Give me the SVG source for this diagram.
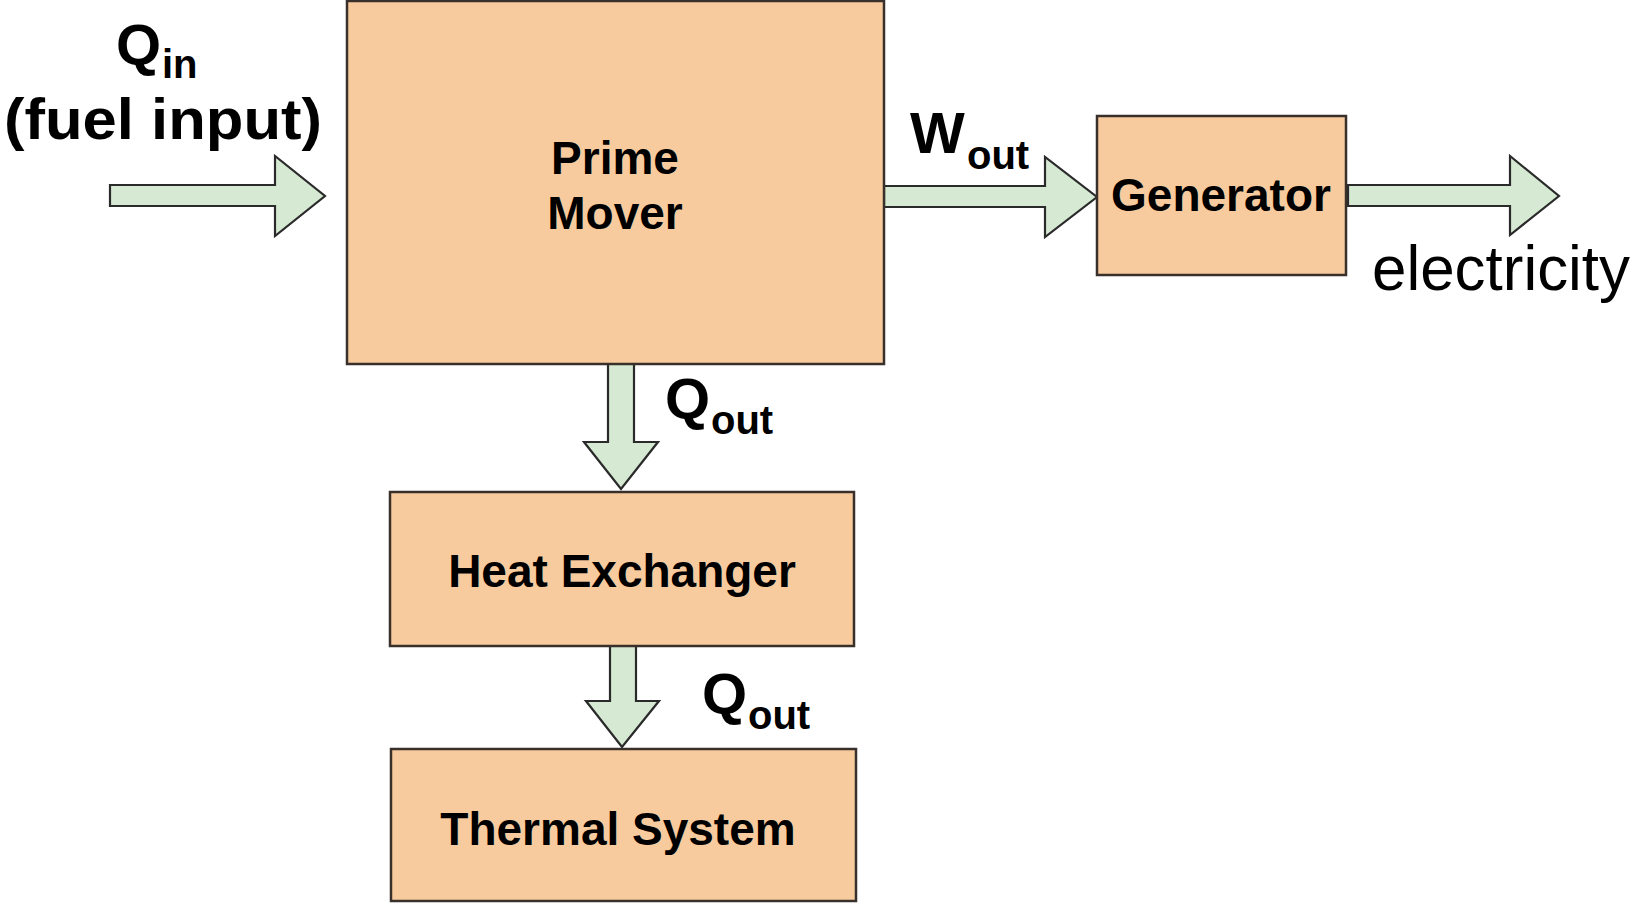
<svg xmlns="http://www.w3.org/2000/svg" width="1633" height="903" viewBox="0 0 1633 903">
<style>
.box{fill:#F8CB9E;stroke:#3a302b;stroke-width:2.5}
.arr{fill:#D6E9D3;stroke:#2a2a2a;stroke-width:2.2;stroke-linejoin:miter}
.lbl{font-family:"Liberation Sans",Arial,sans-serif;font-weight:bold;font-size:46px;fill:#000;text-anchor:middle}
.big{font-family:"Liberation Sans",Arial,sans-serif;font-weight:bold;font-size:58px;fill:#000}
.sub{font-family:"Liberation Sans",Arial,sans-serif;font-weight:bold;font-size:40px;fill:#000}
.reg{font-family:"Liberation Sans",Arial,sans-serif;font-size:63px;fill:#000}
</style>
<rect width="1633" height="903" fill="#fff"/>
<g id="connectors">
<polygon class="arr" points="110,185 275,185 275,156 325,196 275,236 275,206 110,206"/>
<polygon class="arr" points="884,186 1045,186 1045,157 1097,197 1045,237 1045,207 884,207"/>
<polygon class="arr" points="1348,185 1510,185 1510,156 1559,196 1510,235 1510,206 1348,206"/>
<polygon class="arr" points="608,364 634,364 634,442 658,442 621,489 584,442 608,442"/>
<polygon class="arr" points="610,646 636,646 636,701 659,701 622,747 586,701 610,701"/>
</g>
<g id="labels">
<text><tspan class="big" x="116" y="65" font-size="60">Q</tspan><tspan class="sub" x="162" y="78">in</tspan></text>
<text class="big" x="4" y="139" font-size="64" textLength="318" lengthAdjust="spacingAndGlyphs">(fuel input)</text>
<text><tspan class="big" x="910" y="153">W</tspan><tspan class="sub" x="967" y="169">out</tspan></text>
<text><tspan class="big" x="665" y="419">Q</tspan><tspan class="sub" x="711" y="434">out</tspan></text>
<text><tspan class="big" x="702" y="714">Q</tspan><tspan class="sub" x="748" y="729">out</tspan></text>
<text class="reg" x="1372" y="290" textLength="258" lengthAdjust="spacingAndGlyphs">electricity</text>
</g>
<g id="prime-mover">
<rect class="box" x="347" y="1" width="537" height="363"/>
<text class="lbl" x="615" y="174">Prime</text>
<text class="lbl" x="615" y="229">Mover</text>
</g>
<g id="generator">
<rect class="box" x="1097" y="116" width="249" height="159"/>
<text class="lbl" x="1221" y="211">Generator</text>
</g>
<g id="heat-exchanger">
<rect class="box" x="390" y="492" width="464" height="154"/>
<text class="lbl" x="622" y="587">Heat Exchanger</text>
</g>
<g id="thermal-system">
<rect class="box" x="391" y="749" width="465" height="152"/>
<text class="lbl" x="618" y="845">Thermal System</text>
</g>
</svg>
